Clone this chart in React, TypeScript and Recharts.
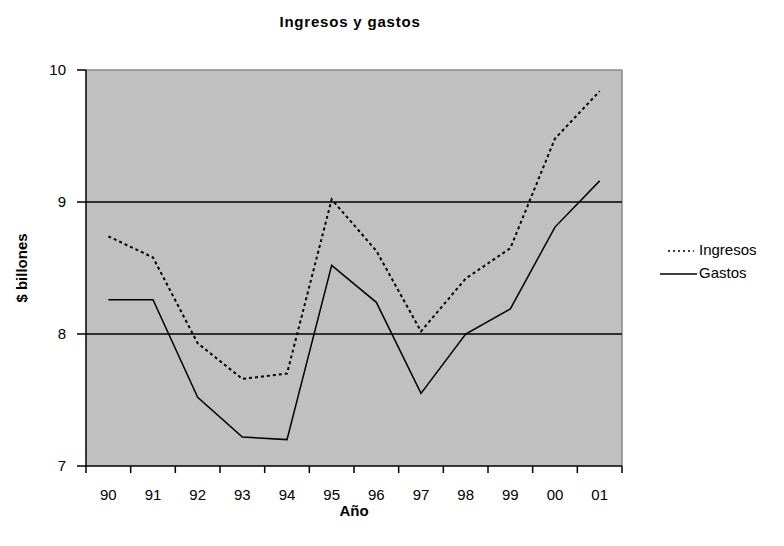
import React from "react";
import { LineChart, Line, XAxis, YAxis, CartesianGrid, ReferenceLine } from "recharts";

const years = ["90", "91", "92", "93", "94", "95", "96", "97", "98", "99", "00", "01"];
const ingresos = [8.74, 8.58, 7.93, 7.66, 7.7, 9.02, 8.63, 8.02, 8.42, 8.65, 9.48, 9.84];
const gastos = [8.26, 8.26, 7.52, 7.22, 7.2, 8.52, 8.24, 7.55, 8.0, 8.19, 8.81, 9.16];
const yTicks = [7, 8, 9, 10];
const gridValues = [8, 9];
const seriesNames = ["Ingresos", "Gastos"];

const data = years.map((y, i) => ({ i, year: y, Ingresos: ingresos[i], Gastos: gastos[i] }));
const boundaryTicks = years.map((_, i) => i - 0.5).concat([years.length - 0.5]);

const W = 784;
const H = 546;
const M = { top: 70, right: 162, bottom: 50, left: 46 };
const Y_W = 40;
const X_H = 30;
const plotW = W - M.left - M.right - Y_W;
const bandPx = plotW / years.length;
const FONT = "'Liberation Sans', Arial, sans-serif";

const XTick = (props: any) => {
  const { x, y, index } = props;
  return (
    <g>
      <line x1={x} y1={y - 8} x2={x} y2={y - 1} stroke="#000" strokeWidth={1.5} />
      {index < years.length ? (
        <text x={x + bandPx / 2} y={y + 26} textAnchor="middle" fontSize={15} fontFamily={FONT} fill="#000">
          {years[index]}
        </text>
      ) : null}
    </g>
  );
};

const LegendBox = () => (
  <div style={{ position: "absolute", left: 660, top: 238, fontFamily: FONT, fontSize: 15, color: "#000" }}>
    {seriesNames.map((n, k) => (
      <div key={n} style={{ display: "flex", alignItems: "center", height: 23 }}>
        <svg width={39} height={10}>
          {k === 0 ? (
            <line x1={8} y1={6} x2={34} y2={6} stroke="#000" strokeWidth={1.5} strokeDasharray="2 3" />
          ) : (
            <line x1={0} y1={6} x2={37} y2={6} stroke="#000" strokeWidth={1.5} />
          )}
        </svg>
        <span>{n}</span>
      </div>
    ))}
  </div>
);

export default function App() {
  return (
    <div style={{ position: "absolute", left: 0, top: 0, width: W, height: H, background: "#fff" }}>
      <div
        style={{
          position: "absolute",
          top: 13,
          left: 0,
          width: 700,
          textAlign: "center",
          fontFamily: FONT,
          fontWeight: "bold",
          fontSize: 15,
          letterSpacing: 0.8,
          color: "#000",
        }}
      >
        Ingresos y gastos
      </div>
      <LineChart width={W} height={H} data={data} margin={M}>
        <CartesianGrid fill="#c0c0c0" horizontal={false} vertical={false} stroke="none" />
        <XAxis
          dataKey="i"
          type="number"
          domain={[-0.5, years.length - 0.5]}
          ticks={boundaryTicks}
          interval={0}
          tickLine={false}
          tick={<XTick />}
          height={X_H}
          axisLine={{ stroke: "#000", strokeWidth: 1.5 }}
          label={{ value: "Año", position: "insideBottom", offset: -20, fontFamily: FONT, fontSize: 15, fontWeight: "bold", fill: "#000" }}
        />
        <YAxis
          domain={[7, 10]}
          ticks={yTicks}
          width={Y_W}
          tickSize={9}
          tickMargin={11}
          tickLine={{ stroke: "#000", strokeWidth: 1.5 }}
          axisLine={{ stroke: "#000", strokeWidth: 1.5 }}
          tick={{ fontFamily: FONT, fontSize: 15, fill: "#000" }}
          label={{ value: "$ billones", angle: -90, position: "insideLeft", offset: -24, fontFamily: FONT, fontSize: 15, fontWeight: "bold", fill: "#000", style: { textAnchor: "middle" } }}
        />
        <ReferenceLine y={10} stroke="#8a8a8a" strokeWidth={1.5} />
        <ReferenceLine x={years.length - 0.5} stroke="#8a8a8a" strokeWidth={1.5} />
        {gridValues.map((v) => (
          <ReferenceLine key={v} y={v} stroke="#000" strokeWidth={1.5} />
        ))}
        <Line dataKey="Ingresos" stroke="#000" strokeWidth={2} strokeDasharray="3 3" dot={false} isAnimationActive={false} />
        <Line dataKey="Gastos" stroke="#000" strokeWidth={1.5} dot={false} isAnimationActive={false} />
      </LineChart>
      <LegendBox />
    </div>
  );
}
